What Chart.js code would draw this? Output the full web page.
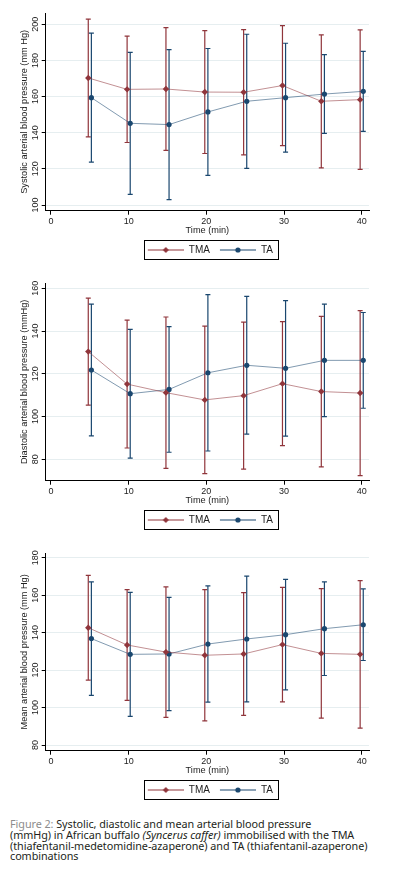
<!DOCTYPE html>
<html>
<head>
<meta charset="utf-8">
<script src="https://cdn.jsdelivr.net/npm/chart.js@4.4.1/dist/chart.umd.min.js"></script>
<style>
  body { margin: 0; background: #fff; width: 395px; height: 886px; position: relative; overflow: hidden; }
  canvas { position: absolute; left: 0; }
  #caption { position: absolute; left: 10px; top: 819px; font-family: "Noto Sans", sans-serif; font-size: 10.8px;
             line-height: 10.8px; color: #231f20; letter-spacing: -0.05px; white-space: nowrap; }
  #caption .fig { color: #8c8c8c; }
</style>
</head>
<body>
<canvas id="sys" width="395" height="265" style="top:0px"></canvas>
<canvas id="dia" width="395" height="265" style="top:270px"></canvas>
<canvas id="map" width="395" height="265" style="top:540px"></canvas>
<div id="caption"><span class="fig">Figure 2:</span> Systolic, diastolic and mean arterial blood pressure<br>(mmHg) in African buffalo <i>(Syncerus caffer)</i> immobilised with the TMA<br>(thiafentanil-medetomidine-azaperone) and TA (thiafentanil-azaperone)<br>combinations</div>
<script>
// valores (média e DP)
const times = [5, 10, 15, 20, 25, 30, 35, 40];
const seriesNames = ['TMA', 'TA'];
const xTicks = [0, 10, 20, 30, 40];
const xRange = [-0.68, 40.94];

const sysTmaMean = [170.3, 164.0, 164.2, 162.5, 162.4, 166.1, 157.4, 158.3];
const sysTmaSd   = [32.6, 29.4, 34.0, 34.0, 34.7, 33.2, 36.8, 38.6];
const sysTaMean  = [159.4, 145.2, 144.5, 151.5, 157.4, 159.4, 161.4, 162.9];
const sysTaSd    = [35.7, 39.3, 41.5, 35.1, 37.1, 30.1, 21.8, 22.1];
const sysTicks = [100, 120, 140, 160, 180, 200];
const sysRange = [96.85, 206.25];

const diaTmaMean = [130.4, 115.2, 111.2, 107.8, 109.8, 115.4, 111.7, 111.0];
const diaTmaSd   = [25.0, 29.9, 35.4, 34.5, 34.4, 29.0, 35.2, 38.6];
const diaTaMean  = [121.8, 110.7, 112.7, 120.5, 124.0, 122.6, 126.3, 126.3];
const diaTaSd    = [30.8, 30.1, 29.4, 36.6, 32.2, 31.7, 26.3, 22.4];
const diaTicks = [80, 100, 120, 140, 160];
const diaRange = [70, 162.5];

const mapTmaMean = [142.6, 133.4, 129.6, 127.9, 128.6, 133.6, 128.9, 128.4];
const mapTmaSd   = [28.0, 29.6, 34.8, 35.0, 32.8, 30.6, 34.6, 39.4];
const mapTaMean  = [136.8, 128.4, 128.6, 133.9, 136.6, 138.9, 142.1, 144.2];
const mapTaSd    = [30.3, 33.1, 30.2, 31.0, 33.6, 29.5, 25.0, 19.1];
const mapTicks = [80, 100, 120, 140, 160, 180];
const mapRange = [76.96, 182.5];

const TMA_COLOR = '#90353b';
const TA_COLOR = '#1a476f';
const FONT = '"Liberation Sans", Arial, sans-serif';

function legendIcon(color, shape) {
    const c = document.createElement('canvas');
    c.width = 42; c.height = 8;
    const g = c.getContext('2d');
    g.strokeStyle = color;
    g.lineWidth = 1.2;
    g.beginPath(); g.moveTo(6, 4); g.lineTo(42, 4); g.stroke();
    g.fillStyle = color;
    g.beginPath();
    if (shape === 'diamond') {
        g.moveTo(21, 4); g.lineTo(24, 1); g.lineTo(27, 4); g.lineTo(24, 7); g.closePath();
    } else {
        g.arc(24, 4, 2.6, 0, Math.PI * 2);
    }
    g.fill();
    return c;
}
const icons = [legendIcon(TMA_COLOR, 'diamond'), legendIcon(TA_COLOR, 'circle')];

// barras de erro (média ± DP) desenhadas pelas escalas do gráfico
const errorBars = {
    id: 'errorBars',
    beforeDatasetsDraw(chart) {
        const ctx = chart.ctx;
        const yScale = chart.scales.y;
        chart.data.datasets.forEach((ds, di) => {
            const meta = chart.getDatasetMeta(di);
            ctx.save();
            ctx.strokeStyle = ds.barColor;
            ctx.lineWidth = 1.2;
            meta.data.forEach((pt, i) => {
                const m = ds.data[i].y, s = ds.sd[i];
                const top = yScale.getPixelForValue(m + s);
                const bot = yScale.getPixelForValue(m - s);
                ctx.beginPath();
                ctx.moveTo(pt.x, top); ctx.lineTo(pt.x, bot);
                ctx.moveTo(pt.x - 2.5, top); ctx.lineTo(pt.x + 2.5, top);
                ctx.moveTo(pt.x - 2.5, bot); ctx.lineTo(pt.x + 2.5, bot);
                ctx.stroke();
            });
            ctx.restore();
        });
    }
};

// moldura da legenda
const legendFrame = {
    id: 'legendFrame',
    afterDraw(chart) {
        const boxes = chart.legend && chart.legend.legendHitBoxes;
        if (!boxes || !boxes.length) return;
        const first = boxes[0], last = boxes[boxes.length - 1];
        const cy = first.top + 5;
        const ctx = chart.ctx;
        ctx.save();
        ctx.strokeStyle = '#000';
        ctx.lineWidth = 1;
        const left = Math.round(first.left + 6 - 4) + 0.5;
        const right = Math.round(last.left + last.width + 5) + 0.5;
        ctx.strokeRect(left, Math.round(cy - 10) + 0.5, right - left, 19);
        ctx.restore();
    }
};

function makePanel(id, yTitle, yTicks, yRange, tmaMean, tmaSd, taMean, taSd) {
    const ctx = document.getElementById(id).getContext('2d');
    return new Chart(ctx, {
        type: 'line',
        data: {
            datasets: [
                {
                    label: seriesNames[0],
                    data: times.map((t, i) => ({ x: t - 0.2, y: tmaMean[i] })),
                    sd: tmaSd,
                    barColor: TMA_COLOR,
                    borderColor: 'rgba(144,53,59,0.55)',
                    borderWidth: 1,
                    backgroundColor: TMA_COLOR,
                    pointBackgroundColor: TMA_COLOR,
                    pointBorderWidth: 0,
                    pointStyle: 'rectRot',
                    pointRadius: 3.2,
                    tension: 0
                },
                {
                    label: seriesNames[1],
                    data: times.map((t, i) => ({ x: t + 0.2, y: taMean[i] })),
                    sd: taSd,
                    barColor: TA_COLOR,
                    borderColor: 'rgba(26,71,111,0.55)',
                    borderWidth: 1,
                    backgroundColor: TA_COLOR,
                    pointBackgroundColor: TA_COLOR,
                    pointBorderWidth: 0,
                    pointStyle: 'circle',
                    pointRadius: 2.6,
                    tension: 0
                }
            ]
        },
        options: {
            responsive: false,
            animation: false,
            events: [],
            layout: { padding: { left: 0, right: 26, top: 13, bottom: 0 } },
            scales: {
                x: {
                    type: 'linear',
                    min: xRange[0],
                    max: xRange[1],
                    afterBuildTicks: axis => { axis.ticks = xTicks.map(v => ({ value: v })); },
                    afterFit: s => { s.height = 30.3; },
                    border: { display: true, color: '#000', width: 1 },
                    grid: { display: true, drawOnChartArea: false, drawTicks: true, tickLength: 4, tickColor: '#000', tickWidth: 1 },
                    ticks: { color: '#222', font: { family: FONT, size: 9 }, padding: 1, autoSkip: false, maxRotation: 0 },
                    title: { display: true, text: 'Time (min)', color: '#222', font: { family: FONT, size: 9.2 }, padding: { top: 0, bottom: 4.8 } }
                },
                y: {
                    type: 'linear',
                    min: yRange[0],
                    max: yRange[1],
                    afterBuildTicks: axis => { axis.ticks = yTicks.map(v => ({ value: v })); },
                    afterFit: s => { s.width = 45.7; },
                    border: { display: true, color: '#000', width: 1 },
                    grid: { display: true, color: '#e6eef0', lineWidth: 1, drawTicks: true, tickLength: 4, tickColor: '#000', tickWidth: 1 },
                    ticks: { color: '#222', font: { family: FONT, size: 9 }, padding: -1.1, autoSkip: false,
                             minRotation: 90, maxRotation: 90, crossAlign: 'center' },
                    title: { display: true, text: yTitle, color: '#222', font: { family: FONT, size: 9.2 }, padding: { top: 18.5, bottom: 0 } }
                }
            },
            plugins: {
                tooltip: { enabled: false },
                legend: {
                    display: true,
                    position: 'bottom',
                    fullSize: false,
                    labels: {
                        usePointStyle: true,
                        pointStyleWidth: 42,
                        padding: 4,
                        color: '#222',
                        font: { family: FONT, size: 10 },
                        generateLabels: chart => chart.data.datasets.map((ds, i) => ({
                            text: ds.label,
                            pointStyle: icons[i],
                            datasetIndex: i,
                            hidden: false,
                            lineWidth: 0,
                            fillStyle: 'transparent',
                            strokeStyle: 'transparent',
                            fontColor: '#222'
                        }))
                    }
                }
            }
        },
        plugins: [errorBars, legendFrame]
    });
}

makePanel('sys', 'Systolic arterial blood pressure (mm Hg)', sysTicks, sysRange, sysTmaMean, sysTmaSd, sysTaMean, sysTaSd);
makePanel('dia', 'Diastolic arterial blood pressure (mmHg)', diaTicks, diaRange, diaTmaMean, diaTmaSd, diaTaMean, diaTaSd);
makePanel('map', 'Mean arterial blood pressure (mm Hg)', mapTicks, mapRange, mapTmaMean, mapTmaSd, mapTaMean, mapTaSd);
</script>
</body>
</html>
